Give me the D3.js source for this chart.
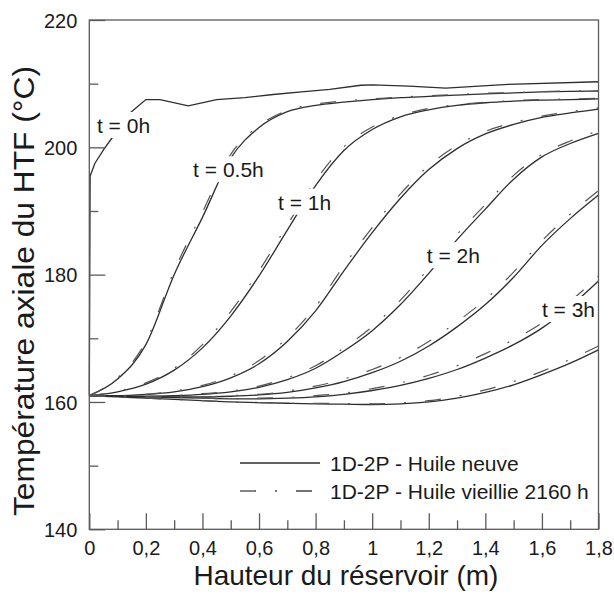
<!DOCTYPE html>
<html><head><meta charset="utf-8">
<script src="https://cdn.jsdelivr.net/npm/d3@7"></script>
<style>
html,body{margin:0;padding:0;background:#fff;}
text{font-family:"Liberation Sans",Arial,sans-serif;fill:#1a1a1a;}
</style></head>
<body><svg id="c" width="614" height="594"></svg>
<script>
// ---- data ----
const heights = [0,0.1,0.2,0.3,0.4,0.5,0.6,0.7,0.8,0.9,1.0,1.1,1.2,1.3,1.4,1.5,1.6,1.7,1.8];
const t0Heights = [0,0.003,0.02,0.05,0.084,0.144,0.2,0.25,0.35,0.45,0.55,0.65,0.75,0.85,0.96,1.0,1.13,1.26,1.48,1.8];
const t0Temps   = [161,195.5,197.5,199.6,201.7,205.4,207.5,207.5,206.5,207.5,207.8,208.3,208.7,209.1,209.75,209.8,209.6,209.3,209.9,210.3];
const newOil_05h = [161.0,163.6,169.0,180.0,189.0,198.3,203.1,205.6,206.6,207.1,207.5,207.8,208.0,208.2,208.4,208.55,208.7,208.8,208.85];
const newOil_1h  = [161.0,161.6,162.8,165.0,168.5,173.5,179.8,187.0,194.0,199.5,202.8,204.8,205.9,206.6,207.0,207.25,207.4,207.5,207.6];
const newOil_15h = [161.0,161.0,161.2,161.6,162.4,163.8,166.0,169.5,174.3,180.6,186.6,192.0,196.5,199.8,202.1,203.6,204.7,205.4,206.0];
const newOil_2h  = [161.0,160.9,160.9,161.0,161.2,161.6,162.3,163.5,165.3,168.0,171.2,175.3,180.2,185.5,190.3,195.0,198.5,200.6,202.2];
const newOil_25h = [161.0,160.9,160.8,160.8,160.8,160.9,161.1,161.5,162.2,163.2,164.6,166.4,168.8,171.8,175.3,179.6,184.6,188.8,192.5];
const newOil_3h  = [161.0,160.9,160.8,160.7,160.6,160.5,160.5,160.6,160.8,161.2,161.8,162.6,163.7,165.1,166.9,169.0,171.6,175.0,179.0];
const newOil_35h = [161.0,160.8,160.6,160.4,160.2,160.0,159.9,159.8,159.7,159.65,159.6,159.7,160.0,160.6,161.5,162.7,164.3,166.1,168.2];
const agedOil_05h = [161.0,163.8,169.5,180.6,189.8,198.9,203.4,205.8,206.8,207.3,207.6,207.9,208.1,208.3,208.5,208.6,208.75,208.85,208.9];
const agedOil_1h  = [161.0,161.7,163.0,165.3,169.0,174.2,180.6,187.8,194.8,200.1,203.2,205.0,206.1,206.7,207.1,207.35,207.5,207.6,207.7];
const agedOil_15h = [161.0,161.0,161.2,161.7,162.6,164.1,166.5,170.1,175.0,181.4,187.4,192.7,197.1,200.3,202.5,203.9,204.9,205.6,206.2];
const agedOil_2h  = [161.0,160.9,160.9,161.0,161.3,161.7,162.5,163.8,165.7,168.5,171.8,176.0,181.0,186.3,191.0,195.6,198.9,201.0,202.6];
const agedOil_25h = [161.0,160.9,160.8,160.8,160.8,161.0,161.2,161.7,162.5,163.6,165.1,167.0,169.5,172.6,176.1,180.4,185.3,189.5,193.2];
const agedOil_3h  = [161.0,160.9,160.8,160.7,160.6,160.5,160.6,160.7,161.0,161.4,162.1,163.0,164.2,165.7,167.6,169.8,172.4,175.8,179.8];
const agedOil_35h = [161.0,160.8,160.6,160.4,160.2,160.0,159.9,159.8,159.8,159.75,159.7,159.85,160.2,160.9,161.9,163.2,164.8,166.7,168.8];
const xMajorTicks = [0,0.2,0.4,0.6,0.8,1.0,1.2,1.4,1.6,1.8];
const xMajorLabels = ["0","0,2","0,4","0,6","0,8","1","1,2","1,4","1,6","1,8"];
const xMinorTicks = [0.1,0.3,0.5,0.7,0.9,1.1,1.3,1.5,1.7];
const yMajorTicks = [140,160,180,200,220];
const yMinorTicks = [150,170,190,210];
const curveLabels = ["t = 0h","t = 0.5h","t = 1h","t = 2h","t = 3h"];
const labelAnchors = [[0.027,202.25],[0.367,195.3],[0.667,190.2],[1.193,181.8],[1.6,173.35]];
const legendNames = ["1D-2P - Huile neuve","1D-2P - Huile vieillie 2160 h"];

// ---- chart ----
const svg = d3.select("#c");
svg.append("rect").attr("width",614).attr("height",594).attr("fill","#fff");
const x = d3.scaleLinear().domain([0,1.8]).range([89.3,598.5]);
const y = d3.scaleLinear().domain([140,220]).range([529.3,20]);
const lineCol = "#2e2e2e";

const newSeries = [newOil_05h,newOil_1h,newOil_15h,newOil_2h,newOil_25h,newOil_3h,newOil_35h];
const agedSeries = [agedOil_05h,agedOil_1h,agedOil_15h,agedOil_2h,agedOil_25h,agedOil_3h,agedOil_35h];
const line = d3.line().x(d=>x(d[0])).y(d=>y(d[1])).curve(d3.curveMonotoneX);
const lineLin = d3.line().x(d=>x(d[0])).y(d=>y(d[1]));

const plot = svg.append("g");
plot.append("path").datum(t0Heights.map((h,i)=>[h,t0Temps[i]]))
  .attr("d",lineLin).attr("fill","none").attr("stroke",lineCol).attr("stroke-width",1.3);
newSeries.forEach(s=>{
  plot.append("path").datum(heights.map((h,i)=>[h,s[i]]))
    .attr("d",line).attr("fill","none").attr("stroke",lineCol).attr("stroke-width",1.3);
});
agedSeries.forEach(s=>{
  plot.append("path").datum(heights.map((h,i)=>[h,s[i]]))
    .attr("d",line).attr("fill","none").attr("stroke","#555").attr("stroke-width",1.2)
    .attr("stroke-dasharray","16,19,2,19");
});

// curve labels on white boxes that break the curves
curveLabels.forEach((t,i)=>{
  const g = svg.append("g");
  const bg = g.append("rect").attr("fill","#fff");
  const tx = g.append("text").attr("x",x(labelAnchors[i][0])).attr("y",y(labelAnchors[i][1]))
    .attr("font-size",21).text(t);
  const b = tx.node().getBBox();
  bg.attr("x",b.x-3).attr("y",b.y-2).attr("width",b.width+5).attr("height",b.height+3);
});

// frame
const [x0,x1] = x.range(), [yb,yt] = y.range();
svg.append("rect").attr("x",x0).attr("y",yt).attr("width",x1-x0).attr("height",yb-yt)
  .attr("fill","none").attr("stroke","#5a5a5a").attr("stroke-width",1.3);

// axes
const axCol = "#5a5a5a";
const gx = svg.append("g").attr("transform",`translate(0,${yb})`)
  .call(d3.axisBottom(x).tickValues(xMajorTicks).tickSize(-16).tickPadding(12)
    .tickFormat((d,i)=>xMajorLabels[i]));
const gxm = svg.append("g").attr("transform",`translate(0,${yb})`)
  .call(d3.axisBottom(x).tickValues(xMinorTicks).tickSize(-9).tickFormat(""));
const gy = svg.append("g").attr("transform",`translate(${x0},0)`)
  .call(d3.axisLeft(y).tickValues(yMajorTicks).tickSize(-16).tickPadding(12).tickFormat(d3.format("d")));
const gym = svg.append("g").attr("transform",`translate(${x0},0)`)
  .call(d3.axisLeft(y).tickValues(yMinorTicks).tickSize(-9).tickFormat(""));
[gx,gxm,gy,gym].forEach(g=>{
  g.select(".domain").remove();
  g.selectAll(".tick line").attr("stroke",axCol).attr("stroke-width",1.3);
  g.selectAll(".tick text").attr("font-size",20).attr("fill","#1a1a1a")
    .attr("font-family","Liberation Sans, Arial, sans-serif");
});
gx.selectAll(".tick text").attr("dy","0.71em");
gy.selectAll(".tick text").attr("dy","0.36em");

// axis titles
svg.append("text").attr("x",(x0+x1)/2+2).attr("y",585).attr("text-anchor","middle")
  .attr("font-size",28).text("Hauteur du réservoir (m)");
svg.append("text").attr("transform",`translate(34,${291}) rotate(-90)`).attr("text-anchor","middle")
  .attr("font-size",30).attr("textLength",450).attr("lengthAdjust","spacingAndGlyphs")
  .text("Température axiale du HTF (°C)");

// legend
const lg = svg.append("g");
const legY = [463,491];
legendNames.forEach((n,i)=>{
  lg.append("line").attr("x1",240).attr("x2",320).attr("y1",legY[i]).attr("y2",legY[i])
    .attr("stroke",i===0?lineCol:"#444").attr("stroke-width",1.3)
    .attr("stroke-dasharray",i===0?null:"16,19,2,19");
  lg.append("text").attr("x",330).attr("y",legY[i]+7.5).attr("font-size",21).text(n);
});
</script></body></html>
